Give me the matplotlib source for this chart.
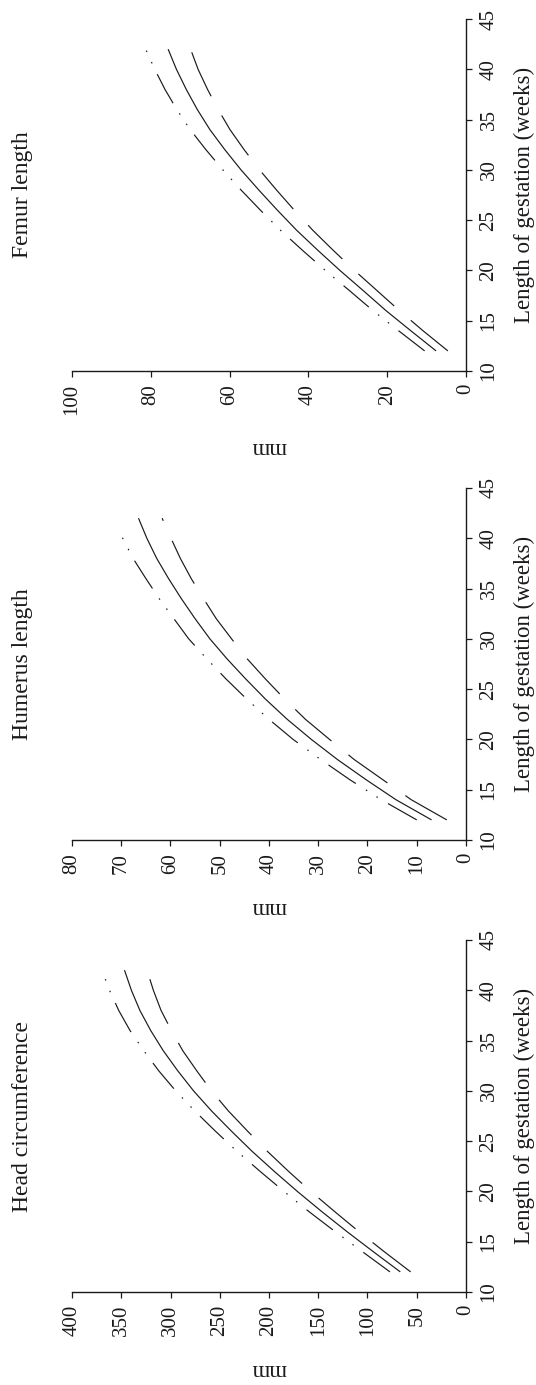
import matplotlib
matplotlib.use("Agg")
import matplotlib.pyplot as plt
import numpy as np

plt.rcParams['font.family'] = ['Liberation Serif', 'DejaVu Serif']
plt.rcParams['lines.scale_dashes'] = False

# ---- data ----
weeks = [12, 14, 16, 18, 20, 22, 24, 26, 28, 30, 32, 34, 36, 38, 40, 42]

head_upper = [77.2, 105.0, 132.8, 159.5, 184.8, 209.1, 232.7, 254.5, 275.4, 294.7,
              312.0, 327.2, 341.1, 352.6, 361.9, 369.5]
head_mean = [66.7, 94.0, 120.8, 146.5, 171.2, 194.7, 217.3, 238.2, 258.3, 276.6,
             292.7, 307.4, 320.1, 331.1, 339.7, 346.7]
head_lower = [56.2, 82.9, 108.7, 133.4, 157.5, 180.2, 201.8, 221.8, 241.2, 258.4,
              273.4, 287.6, 299.1, 309.6, 317.4, 323.8]

humerus_upper_weeks = [12, 14, 16, 18, 20, 22, 24, 26, 28, 30, 32, 34, 36, 38, 40, 41]
humerus_upper = [10.0, 17.2, 23.6, 29.5, 35.1, 40.0, 44.5, 48.7, 52.6, 56.3,
                 59.3, 62.3, 65.0, 67.6, 69.7, 70.7]
humerus_mean = [7.0, 14.2, 20.3, 26.1, 31.4, 36.3, 40.7, 44.7, 48.5, 52.0,
                55.0, 57.8, 60.4, 62.8, 64.8, 66.5]
humerus_lower = [3.9, 11.1, 16.9, 22.7, 27.7, 32.6, 36.8, 40.7, 44.4, 47.6,
                 50.7, 53.3, 55.8, 58.0, 59.9, 61.7]

femur_upper = [10.5, 17.1, 23.6, 29.6, 35.7, 41.5, 47.1, 52.2, 57.1, 61.7,
               66.0, 70.0, 73.4, 76.4, 79.0, 81.3]
femur_mean = [7.6, 14.0, 20.3, 26.1, 32.0, 37.6, 43.0, 47.9, 52.6, 57.1,
              61.2, 65.0, 68.2, 71.0, 73.5, 75.6]
femur_lower = [4.6, 10.9, 16.9, 22.6, 28.3, 33.7, 38.9, 43.6, 48.1, 52.4,
               56.3, 59.9, 62.9, 65.6, 68.0, 69.9]

titles = ["Femur length", "Humerus length", "Head circumference"]
mm_max = [100, 80, 400]
mm_step = [20, 10, 50]
week_ticks = [10, 15, 20, 25, 30, 35, 40, 45]
xlabel = "Length of gestation (weeks)"
ylabel = "mm"

# ---- layout (pixels in a 536 x 1385 image) ----
W, H = 536.0, 1385.0
fig = plt.figure(figsize=(W / 100, H / 100), dpi=100)

ax_left, ax_right = 72.0, 466.0
ax_tops = [19.0, 488.0, 940.0]
ax_bots = [371.0, 840.0, 1292.0]
mm_label_y = [448.0, 907.0, 1369.0]

series = [
    (weeks, femur_upper, weeks, femur_mean, weeks, femur_lower),
    (humerus_upper_weeks, humerus_upper, weeks, humerus_mean, weeks, humerus_lower),
    (weeks, head_upper, weeks, head_mean, weeks, head_lower),
]

lc = '#1a1a1a'
upper_ls = (0, (23.8, 8.6, 1.1, 7.9, 1.1, 8.6))
lower_ls = (0, (34.6, 15.8))

for i in range(3):
    top, bot = ax_tops[i], ax_bots[i]
    ax = fig.add_axes([ax_left / W, 1 - bot / H, (ax_right - ax_left) / W, (bot - top) / H])
    uw, up, mw, mean, lw_, low = series[i]
    ax.plot(mean, mw, color=lc, lw=0.85, solid_capstyle='butt')
    ax.plot(up, uw, color=lc, lw=0.85, linestyle=upper_ls, dash_capstyle='butt')
    ax.plot(low, lw_, color=lc, lw=0.85, linestyle=lower_ls, dash_capstyle='butt')

    ax.set_xlim(mm_max[i], 0)
    ax.set_ylim(10, 45)
    for s in ['top', 'left']:
        ax.spines[s].set_visible(False)
    for s in ['bottom', 'right']:
        ax.spines[s].set_linewidth(1.0)
        ax.spines[s].set_color(lc)
    ax.yaxis.tick_right()
    ax.xaxis.tick_bottom()
    ax.set_xticks(np.arange(0, mm_max[i] + 1, mm_step[i]))
    ax.set_yticks(week_ticks)
    ax.tick_params(axis='both', direction='out', length=4.3, width=0.9,
                   color=lc, labelsize=15, labelcolor=lc)
    ax.tick_params(axis='x', labelrotation=90, pad=5)
    ax.tick_params(axis='y', labelrotation=90, pad=5.5)
    for lab in ax.get_yticklabels():
        lab.set_va('center')
    ax.set_facecolor('none')

    cy = 1 - ((top + bot) / 2) / H
    fig.text(22.5 / W, cy, titles[i], rotation=90, ha='center',
             va='center', fontsize=17, color=lc)
    fig.text(524.5 / W, cy, xlabel, rotation=90, ha='center', va='center',
             fontsize=16.5, color=lc)
    fig.text(269 / W, 1 - mm_label_y[i] / H, ylabel, rotation=180, ha='center',
             va='center', fontsize=16.5, color=lc)

fig.savefig("out.png", dpi=100, facecolor='white')
